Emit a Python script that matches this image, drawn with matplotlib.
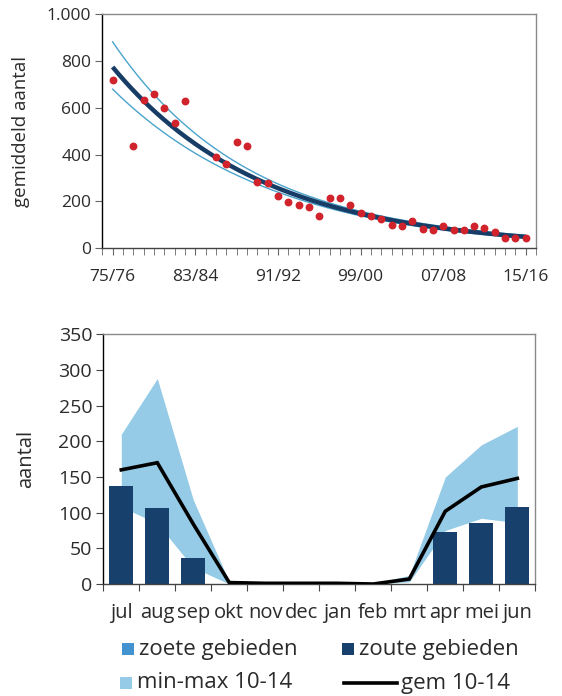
import numpy as np
import matplotlib
matplotlib.use("Agg")
import matplotlib.pyplot as plt
from matplotlib.patches import Rectangle
from matplotlib.lines import Line2D
from matplotlib.ticker import FuncFormatter

plt.rcParams["font.family"] = ["Open Sans", "DejaVu Sans"]
TXT = "#2b2b2b"

# top chart: winter average per season, 75/76 .. 15/16 (nan = no count)
season_counts = [717, np.nan, 437, 634, 659, 599, 533, 627, np.nan, np.nan,
                 388, 360, 455, 438, 282, 279, 225, 198, 185, 176,
                 139, 215, 213, 185, 152, 138, 127, 100, 95, 117,
                 81, 78, 97, 80, 78, 97, 87, 68, 44, 44, 46]
season_ticks = ["75/76", "83/84", "91/92", "99/00", "07/08", "15/16"]

# bottom chart: monthly numbers
months = ["jul", "aug", "sep", "okt", "nov", "dec", "jan", "feb", "mrt", "apr", "mei", "jun"]
zoute = [137, 106, 36, 0, 0, 0, 0, 0, 0, 73, 85, 108]
zoete = [0, 0, 0, 0, 0, 0, 0, 0, 0, 0, 0, 0]
band_min = [108, 85, 23, 0, 0, 0, 0, 0, 3, 75, 92, 86]
band_max = [210, 288, 118, 3, 2, 2, 1, 1, 12, 150, 195, 221]
gem = [160, 170, 84, 2, 1, 1, 1, 0, 7, 102, 136, 148]

fig = plt.figure(figsize=(5.62, 6.96), dpi=100)


def style_spines(ax):
    ax.spines["left"].set_color("black")
    ax.spines["bottom"].set_color("#444444")
    for s in ("top", "right"):
        ax.spines[s].set_color("#8a8a8a")
    for s in ax.spines.values():
        s.set_linewidth(1.0)


# ---- top: log-linear trend with 95% band ----
ax1 = fig.add_axes([0.182, 0.6432, 0.772, 0.3367])
y = np.array(season_counts, dtype=float)
x = np.arange(1, len(y) + 1)
ok = ~np.isnan(y)
xs, ly = x[ok], np.log(y[ok])
b, a = np.polyfit(xs, ly, 1)
n = len(xs)
resid = ly - (a + b * xs)
s = np.sqrt(np.sum(resid ** 2) / (n - 2))
xf = np.linspace(1, len(y), 200)
se = s * np.sqrt(1 / n + (xf - xs.mean()) ** 2 / np.sum((xs - xs.mean()) ** 2))
fit = a + b * xf
t95 = 2.03

ax1.plot(xf, np.exp(fit + t95 * se), color="#4aa3cc", lw=1.0, zorder=2)
ax1.plot(xf, np.exp(fit - t95 * se), color="#4aa3cc", lw=1.0, zorder=2)
ax1.plot(xf, np.exp(fit), color="#173c66", lw=3.2, zorder=3, solid_capstyle="butt")
ax1.scatter(x[ok], y[ok], s=32, color="#d0232b", zorder=4, linewidths=0)

ax1.set_xlim(0, len(y) + 1)
ax1.set_ylim(0, 1000)
ax1.set_yticks(np.arange(0, 1001, 200))
ax1.yaxis.set_major_formatter(FuncFormatter(lambda v, p: f"{int(v):,}".replace(",", ".")))
ax1.set_xticks(np.arange(1, len(y) + 1, 8))
ax1.set_xticklabels(season_ticks)
ax1.set_xticks(np.arange(0, len(y) + 2), minor=True)
ax1.tick_params(axis="x", which="both", length=5, color="#666666", direction="out")
ax1.tick_params(axis="x", which="major", pad=10, labelsize=12.5, labelcolor=TXT)
ax1.tick_params(axis="y", length=5, color="#666666", pad=3, labelsize=12.5, labelcolor=TXT)
ax1.set_ylabel("gemiddeld aantal", fontsize=13.5, color=TXT, labelpad=12)
style_spines(ax1)

# ---- bottom: monthly bars, min-max band and mean ----
ax2 = fig.add_axes([0.1838, 0.1609, 0.7687, 0.3588])
mx = np.arange(len(months))
ax2.fill_between(mx, band_min, band_max, color="#95cbe6", lw=0, zorder=1)
ax2.bar(mx, zoute, width=0.66, color="#17406d", zorder=2)
ax2.bar(mx, zoete, width=0.66, bottom=zoute, color="#4393d0", zorder=2)
ax2.plot(mx, gem, color="black", lw=2.6, zorder=3, solid_joinstyle="miter")

ax2.set_xlim(-0.5, len(months) - 0.5)
ax2.set_ylim(0, 350)
ax2.set_yticks(np.arange(0, 351, 50))
ax2.set_xticks(np.arange(-0.5, len(months), 1.0))
ax2.set_xticklabels([])
ax2.set_xticks(mx, minor=True)
ax2.set_xticklabels(months, minor=True)
ax2.tick_params(axis="x", which="major", length=5, color="#444444")
ax2.tick_params(axis="x", which="minor", length=0, pad=14, labelsize=14.5, labelcolor=TXT)
ax2.tick_params(axis="y", length=5, color="#444444", pad=3, labelsize=14, labelcolor=TXT)
ax2.set_ylabel("aantal", fontsize=14.5, color=TXT, labelpad=16)
style_spines(ax2)

# ---- legend, drawn in pixel positions of the figure ----
W, H = 562, 696


def fx(px):
    return px / W


def fy(py):
    return 1 - py / H


entries = [
    ("patch", "#4393d0", "zoete gebieden", 122, 649),
    ("patch", "#17406d", "zoute gebieden", 342, 649),
    ("patch", "#95cbe6", "min-max 10-14", 120, 683),
    ("line", "black", "gem 10-14", 344, 683),
]
for kind, col, label, px, py in entries:
    if kind == "patch":
        fig.add_artist(Rectangle((fx(px), fy(py + 6)), fx(12), 12 / H,
                                 transform=fig.transFigure, color=col, lw=0))
        tx = px + 17
    else:
        fig.add_artist(Line2D([fx(px), fx(px + 53)], [fy(py), fy(py)],
                              transform=fig.transFigure, color=col, lw=2.6))
        tx = px + 57
    fig.text(fx(tx), fy(py), label, fontsize=16, color=TXT, va="center", ha="left")

fig.savefig("out.png", dpi=100)
